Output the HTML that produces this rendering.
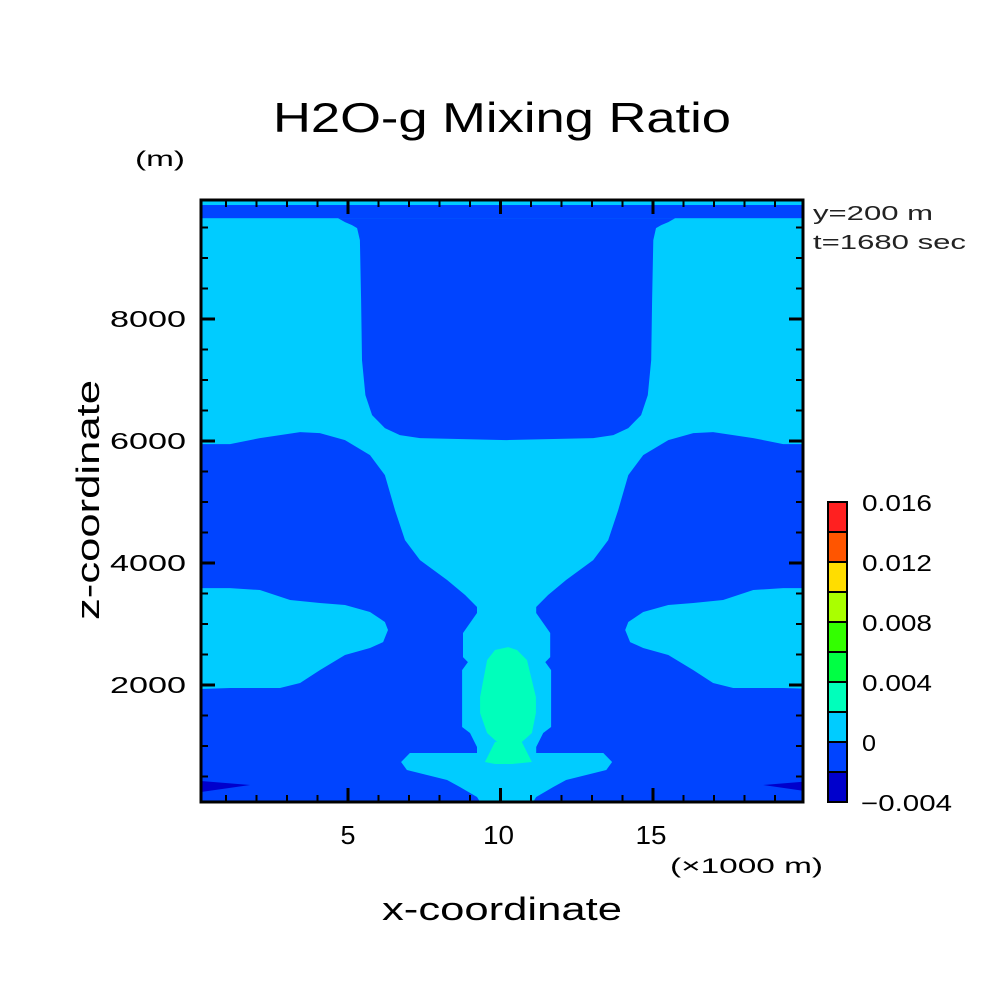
<!DOCTYPE html>
<html><head><meta charset="utf-8">
<style>
html,body{margin:0;padding:0;background:#fff;}
svg{display:block;font-family:"Liberation Sans","DejaVu Sans",sans-serif;}
</style></head>
<body>
<svg id="chart" width="1004" height="1004" viewBox="0 0 1004 1004">
<defs><clipPath id="pc"><rect x="201" y="200" width="602" height="602"/></clipPath></defs>
<g id="fields" clip-path="url(#pc)"></g>
<g id="ticks"></g>
<rect x="201" y="200" width="602" height="602" fill="none" stroke="#000" stroke-width="3"/>
<text x="502" y="132" font-size="42" text-anchor="middle" textLength="458" lengthAdjust="spacingAndGlyphs">H2O-g Mixing Ratio</text>
<text x="135" y="166" font-size="21" textLength="50" lengthAdjust="spacingAndGlyphs">(m)</text>
<text x="813" y="220" font-size="20" textLength="120" lengthAdjust="spacingAndGlyphs" fill="#222">y=200 m</text>
<text x="813" y="249" font-size="20" textLength="153" lengthAdjust="spacingAndGlyphs" fill="#222">t=1680 sec</text>
<g id="ylabels"></g>
<g id="xlabels"></g>
<text x="670" y="873" font-size="21" textLength="153" lengthAdjust="spacingAndGlyphs">(×1000 m)</text>
<text x="502" y="920" font-size="32" text-anchor="middle" textLength="240" lengthAdjust="spacingAndGlyphs">x-coordinate</text>
<text transform="translate(99,500) rotate(-90)" font-size="32" text-anchor="middle" textLength="240" lengthAdjust="spacingAndGlyphs">z-coordinate</text>
<g id="cbar"></g>
</svg>
<script>
const NS="http://www.w3.org/2000/svg";
const X=km=>195.5+30.5*km;
const Z=m=>807-0.061*m;
const XC=10.2;
const xTickMajor=[5,10,15];
const yTickMajor=[2000,4000,6000,8000];
const levels=[-0.004,-0.002,0,0.002,0.004,0.006,0.008,0.010,0.012,0.014,0.016];
const levelColors=["#0000cc","#0044ff","#00ccff","#00ffbb","#00ff44","#33ff00","#aaff00","#ffdd00","#ff5500","#ff2020"];
const cbLabels=["-0.004","0","0.004","0.008","0.012","0.016"];
const cbLabelVals=[-0.004,0,0.004,0.008,0.012,0.016];
const upperLight=[[0.18,9654],[0.18,5950],[1.13,5950],[2.11,6048],[3.43,6146],[4.08,6130],[4.90,6015],[5.72,5769],[6.21,5441],[6.54,4868],[6.87,4376],[7.36,4048],[8.25,3721],[8.84,3475],[9.23,3278],[9.23,3180],[8.77,2852],[8.77,2458],[8.93,2376],[8.74,2245],[8.74,1311],[9.0,1213],[9.23,983],[9.23,885],[7.03,885],[6.74,738],[6.93,606],[8.25,443],[8.67,328],[9.23,164],[9.33,82],[10.21,82]];
const upperDark=[[4.67,9654],[4.90,9588],[5.13,9539],[5.30,9490],[5.39,9293],[5.43,8310],[5.46,7327],[5.57,6753],[5.79,6425],[6.21,6212],[6.70,6097],[7.36,6048],[10.21,6015]];
const lobe=[[0.18,3589],[1.13,3589],[2.11,3557],[3.10,3393],[4.08,3344],[4.90,3311],[5.72,3196],[6.21,3032],[6.31,2901],[6.15,2704],[5.72,2606],[4.90,2491],[4.08,2245],[3.43,2032],[2.77,1950],[1.13,1950],[0.18,1934]];
const wedge=[[0.18,426],[1.79,361],[0.18,246]];
const tealBlob=[[10.25,2622],[9.82,2573],[9.56,2409],[9.33,1803],[9.33,1541],[9.56,1213],[9.89,1065],[9.82,1065],[9.49,738],[9.82,705],[10.38,705],[11.03,738],[10.70,1065],[11.03,1213],[11.16,1541],[11.16,1803],[10.87,2409],[10.54,2573]];
const topStrips=[[9867,10100,"#00ccff"],[9654,9867,"#0044ff"]];

function mirrorPoly(half){
  const right=half.slice().reverse().map(p=>[2*XC-p[0],p[1]]);
  return half.concat(right);
}
function poly(pts,fill,name){
  const p=document.createElementNS(NS,"polygon");
  p.setAttribute("points",pts.map(q=>X(q[0]).toFixed(1)+","+Z(q[1]).toFixed(1)).join(" "));
  p.setAttribute("fill",fill);
  
  
  document.getElementById("fields").appendChild(p);
}
const F=document.getElementById("fields");
const bg=document.createElementNS(NS,"rect");
bg.setAttribute("x",201);bg.setAttribute("y",200);bg.setAttribute("width",602);bg.setAttribute("height",602);bg.setAttribute("fill","#0044ff");


F.appendChild(bg);
poly(mirrorPoly(upperLight),"#00ccff","light-region-upper");
poly(mirrorPoly(upperDark),"#0044ff","dark-region-top-center");
poly(lobe,"#00ccff","light-lobe-left");
poly(lobe.map(p=>[2*XC-p[0],p[1]]),"#00ccff","light-lobe-right");
poly(wedge,"#0000cc","navy-wedge-left");
poly(wedge.map(p=>[2*XC-p[0],p[1]]),"#0000cc","navy-wedge-right");
poly(tealBlob,"#00ffbb","teal-core");
topStrips.forEach(s=>{
  const r=document.createElementNS(NS,"rect");
  r.setAttribute("x",201);r.setAttribute("width",602);
  r.setAttribute("y",Z(s[1]));r.setAttribute("height",Z(s[0])-Z(s[1]));
  r.setAttribute("fill",s[2]);
  
  
  F.appendChild(r);
});
const T=document.getElementById("ticks");
function line(x1,y1,x2,y2,w){
  const l=document.createElementNS(NS,"line");
  l.setAttribute("x1",x1);l.setAttribute("y1",y1);l.setAttribute("x2",x2);l.setAttribute("y2",y2);
  l.setAttribute("stroke","#000");l.setAttribute("stroke-width",w);
  
  
  T.appendChild(l);
}
for(let k=1;k<=19;k++){
  const maj=xTickMajor.includes(k), L=maj?14:7, w=maj?3:2, x=X(k);
  line(x,802,x,802-L,w); line(x,200,x,200+L,w);
}
for(let m=500;m<=9500;m+=500){
  const maj=yTickMajor.includes(m), L=maj?14:7, w=maj?3:2, y=Z(m);
  line(201,y,201+L,y,w); line(803,y,803-L,y,w);
}
function txt(parent,x,y,s,size,anchor,name,len){
  const t=document.createElementNS(NS,"text");
  t.setAttribute("x",x);t.setAttribute("y",y);t.setAttribute("font-size",size);
  t.setAttribute("text-anchor",anchor);
  if(len){t.setAttribute("textLength",len);t.setAttribute("lengthAdjust","spacingAndGlyphs");}
  t.textContent=s;
  
  
  parent.appendChild(t);
}
const YL=document.getElementById("ylabels");
yTickMajor.forEach(m=>txt(YL,186,Z(m)+8,String(m),23,"end","y-tick-label",76));
const XL=document.getElementById("xlabels");
xTickMajor.forEach(k=>txt(XL,X(k)+(k===5?0:-2),844,String(k),26,"middle","x-tick-label",k===5?15:31));
const CB=document.getElementById("cbar");
const cbY=v=>802-(v-levels[0])/(levels[levels.length-1]-levels[0])*300;
levelColors.forEach((c,i)=>{
  const r=document.createElementNS(NS,"rect");
  r.setAttribute("x",828);r.setAttribute("width",19);
  r.setAttribute("y",cbY(levels[i+1]));r.setAttribute("height",cbY(levels[i])-cbY(levels[i+1]));
  r.setAttribute("fill",c);r.setAttribute("stroke","#000");r.setAttribute("stroke-width",2);
  
  
  CB.appendChild(r);
});
cbLabels.forEach((s,i)=>{
  const neg=s.startsWith("-");
  txt(CB,neg?861:862,cbY(cbLabelVals[i])+9,neg?"\u2212"+s.slice(1):s,23,"start","colorbar-label",neg?91:(s==="0"?14:70));
});
</script>
</body></html>
